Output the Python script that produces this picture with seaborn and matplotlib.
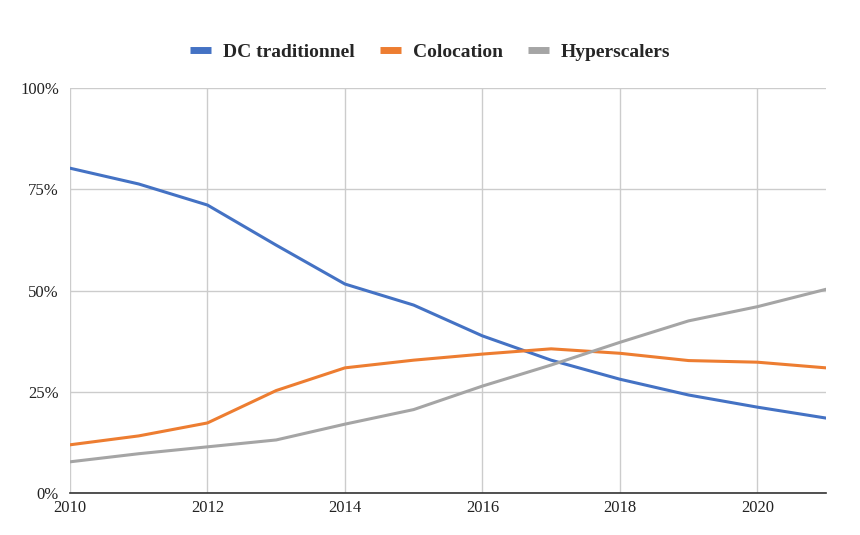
import pandas as pd
import matplotlib.pyplot as plt
import seaborn as sns
from matplotlib.ticker import PercentFormatter

# Data (share in %)
years = list(range(2010, 2022))
dc_traditionnel = [80.2, 76.3, 71.1, 61.2, 51.6, 46.4, 38.8, 32.8, 28.1, 24.2, 21.2, 18.5]
colocation = [11.9, 14.1, 17.3, 25.3, 30.9, 32.8, 34.3, 35.6, 34.5, 32.7, 32.3, 30.9]
hyperscalers = [7.7, 9.7, 11.4, 13.1, 17.0, 20.6, 26.4, 31.6, 37.2, 42.5, 46.0, 50.3]

series_names = ['DC traditionnel', 'Colocation', 'Hyperscalers']
colors = ['#4472C4', '#ED7D31', '#A5A5A5']

df = pd.DataFrame({
    'year': years * 3,
    'share': dc_traditionnel + colocation + hyperscalers,
    'segment': [s for s in series_names for _ in years],
})

sns.set_style('white')
plt.rcParams['font.family'] = ['Liberation Serif', 'DejaVu Serif']

fig = plt.figure(figsize=(8.6, 5.35), dpi=100)
ax = fig.add_axes([0.0814, 0.0785, 0.8791, 0.757])

sns.lineplot(data=df, x='year', y='share', hue='segment', hue_order=series_names,
             palette=colors, linewidth=2.2, ax=ax, legend=False)

ax.set_xlim(2010, 2021)
ax.set_ylim(0, 100)
ax.set_xticks(range(2010, 2021, 2))
ax.set_yticks([0, 25, 50, 75, 100])
ax.yaxis.set_major_formatter(PercentFormatter(decimals=0))
ax.grid(True, color='#cccccc', linewidth=1)
ax.set_axisbelow(True)
for side in ['top', 'right', 'left']:
    ax.spines[side].set_visible(False)
ax.spines['bottom'].set_color('#333333')
ax.spines['bottom'].set_linewidth(1.2)
ax.tick_params(axis='both', length=0, labelsize=12, colors='#222222')
ax.tick_params(axis='y', pad=8)
ax.tick_params(axis='x', pad=5)
ax.set_xlabel('')
ax.set_ylabel('')

# square-ended legend keys like the original
handles = [plt.Line2D([], [], color=c, linewidth=5, solid_capstyle='butt') for c in colors]
fig.legend(handles, series_names, loc='center', bbox_to_anchor=(0.5, 0.902),
           ncol=3, frameon=False, handlelength=1.1, columnspacing=1.3,
           handletextpad=0.6, prop={'weight': 'bold', 'size': 14})

fig.savefig('out.png', dpi=100, facecolor='white')
